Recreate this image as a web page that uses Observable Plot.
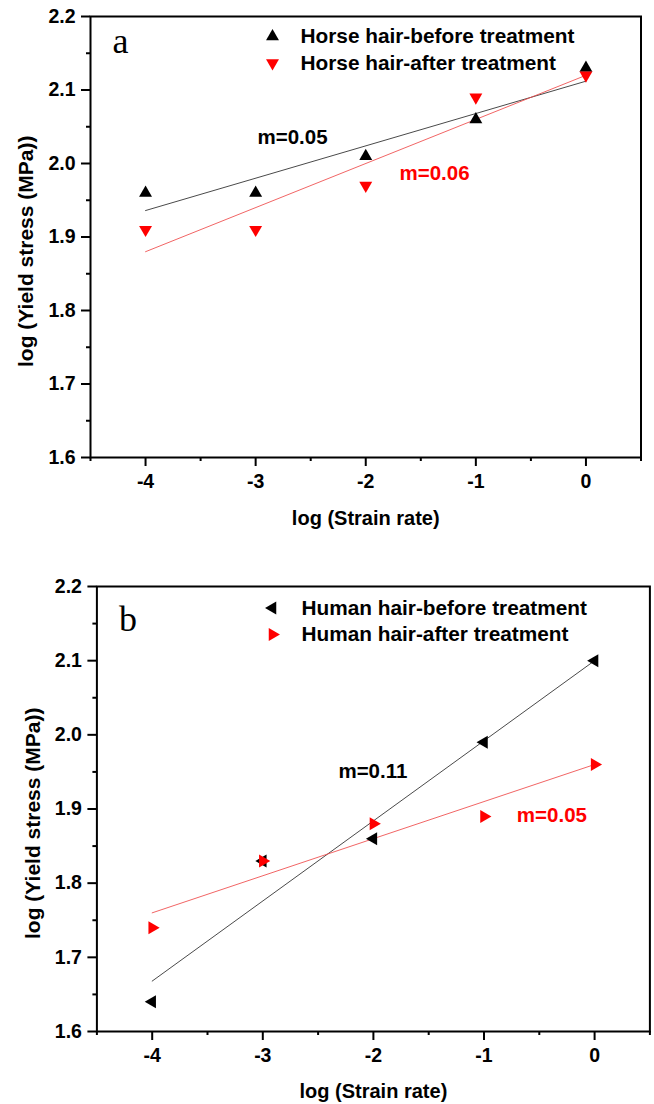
<!DOCTYPE html>
<html>
<head>
<meta charset="utf-8">
<script src="https://cdn.jsdelivr.net/npm/d3@7"></script>
<script src="https://cdn.jsdelivr.net/npm/@observablehq/plot@0.6"></script>
<style>
  body { margin: 0; background: #fff; }
  #chart svg { display: block; }
</style>
</head>
<body>
<div id="chart"></div>
<script>
// Strain-rate sensitivity of hair fibres: log yield stress vs log strain rate
const strainRate = [-4, -3, -2, -1, 0];
const horseBefore = [1.96, 1.96, 2.01, 2.06, 2.13];
const horseAfter = [1.91, 1.91, 1.97, 2.09, 2.12];
const humanBefore = [1.64, 1.83, 1.86, 1.99, 2.10];
const humanAfter = [1.74, 1.83, 1.88, 1.89, 1.96];

const xTicks = [-4, -3, -2, -1, 0];
const xMinorTicks = [-4.5, -3.5, -2.5, -1.5, -0.5, 0.5];
const yTicks = [1.6, 1.7, 1.8, 1.9, 2.0, 2.1, 2.2];
const yMinorTicks = [1.65, 1.75, 1.85, 1.95, 2.05, 2.15];

const panelLetters = ["a", "b"];
const seriesNames = [
  ["Horse hair-before treatment", "Horse hair-after treatment"],
  ["Human hair-before treatment", "Human hair-after treatment"]
];
const slopeLabels = [["m=0.05", "m=0.06"], ["m=0.11", "m=0.05"]];

const xTitle = "log (Strain rate)";
const yTitle = "log (Yield stress (MPa))";

const SANS = "'Liberation Sans', Arial, Helvetica, sans-serif";
const SERIF = "'Liberation Serif', 'Times New Roman', serif";
const RED = "#ff0000";
const WIDTH = 654;

function rows(values) {
  return strainRate.map((x, i) => ({x, y: values[i]}));
}

function panel(cfg) {
  const [s0, s1] = cfg.series;
  const bold = {fontWeight: "bold", lineAnchor: "middle"};
  const marks = [
    Plot.frame({stroke: "black", strokeWidth: 2}),
    // major and minor ticks (outward)
    Plot.axisX(xTicks, {tickSize: 9, tickPadding: 8, strokeWidth: 2, tickFormat: d => String(d), label: null}),
    Plot.axisX(xMinorTicks, {tickSize: 4, strokeWidth: 2, tickFormat: () => "", label: null}),
    Plot.axisY(yTicks, {tickSize: 9, tickPadding: 6, strokeWidth: 2, tickFormat: d => d.toFixed(1), label: null}),
    Plot.axisY(yMinorTicks, {tickSize: 4, strokeWidth: 2, tickFormat: () => "", label: null}),
    // axis titles (the y title runs upward from its start point)
    Plot.text([xTitle], {frameAnchor: "bottom", dy: cfg.xTitleDy, text: d => d, fontSize: 20, textAnchor: "middle", ...bold}),
    Plot.text([yTitle], {frameAnchor: "left", dx: -64, dy: 130, rotate: -90, text: d => d, fontSize: 21, textAnchor: "start", ...bold}),
    // fitted lines
    Plot.linearRegressionY(rows(s0.values), {x: "x", y: "y", ci: 0, stroke: s0.line, strokeWidth: 1}),
    Plot.linearRegressionY(rows(s1.values), {x: "x", y: "y", ci: 0, stroke: s1.line, strokeWidth: 1, strokeOpacity: 0.85}),
    // measurements
    Plot.dot(rows(s0.values), {x: "x", y: "y", symbol: "triangle", rotate: s0.rotate, fill: s0.fill, r: 4.8}),
    Plot.dot(rows(s1.values), {x: "x", y: "y", symbol: "triangle", rotate: s1.rotate, fill: s1.fill, r: 4.8}),
    // panel letter
    Plot.text([cfg.letter], {frameAnchor: "top-left", dx: cfg.letterDx, dy: cfg.letterDy, text: d => d, fontFamily: SERIF, fontSize: 36, fontWeight: "normal", textAnchor: "start", lineAnchor: "middle"}),
    // legend
    Plot.dot([s0], {frameAnchor: "top-left", dx: cfg.legend.symbolDx, dy: cfg.legend.row0, symbol: "triangle", rotate: s0.rotate, fill: s0.fill, r: 4.8}),
    Plot.dot([s1], {frameAnchor: "top-left", dx: cfg.legend.symbolDx, dy: cfg.legend.row1, symbol: "triangle", rotate: s1.rotate, fill: s1.fill, r: 4.8}),
    Plot.text([s0.name], {frameAnchor: "top-left", dx: cfg.legend.textDx, dy: cfg.legend.row0, text: d => d, fontSize: 20.8, textAnchor: "start", ...bold}),
    Plot.text([s1.name], {frameAnchor: "top-left", dx: cfg.legend.textDx, dy: cfg.legend.row1, text: d => d, fontSize: 20.8, textAnchor: "start", ...bold}),
    // slope annotations
    Plot.text([cfg.slopes[0]], {frameAnchor: "top-left", dx: cfg.slopes[0].dx, dy: cfg.slopes[0].dy, text: d => d.label, fill: "black", fontSize: 20.5, textAnchor: "middle", ...bold}),
    Plot.text([cfg.slopes[1]], {frameAnchor: "top-left", dx: cfg.slopes[1].dx, dy: cfg.slopes[1].dy, text: d => d.label, fill: RED, fontSize: 20.5, textAnchor: "middle", ...bold})
  ];
  return Plot.plot({
    width: WIDTH,
    height: cfg.height,
    marginTop: cfg.marginTop,
    marginBottom: cfg.marginBottom,
    marginLeft: cfg.marginLeft,
    marginRight: cfg.marginRight,
    x: {domain: [-4.5, 0.5]},
    y: {domain: [1.6, 2.2]},
    style: {fontFamily: SANS, fontSize: "19.5px", fontWeight: "bold", color: "black", background: "white", overflow: "visible"},
    marks
  });
}

const chart = document.getElementById("chart");

chart.append(panel({
  height: 560, marginTop: 16, marginBottom: 103, marginLeft: 90, marginRight: 13.5,
  xTitleDy: 61,
  letter: panelLetters[0], letterDx: 22, letterDy: 25,
  series: [
    {name: seriesNames[0][0], values: horseBefore, fill: "black", rotate: 0, line: "#4a4a4a"},
    {name: seriesNames[0][1], values: horseAfter, fill: RED, rotate: 180, line: "#ee4a4a"}
  ],
  legend: {symbolDx: 182, textDx: 210, row0: 20, row1: 46.5},
  slopes: [
    {label: slopeLabels[0][0], dx: 202, dy: 121},
    {label: slopeLabels[0][1], dx: 344, dy: 157}
  ]
}));

chart.append(panel({
  height: 544, marginTop: 26, marginBottom: 73, marginLeft: 96.4, marginRight: 4.6,
  xTitleDy: 60,
  letter: panelLetters[1], letterDx: 22, letterDy: 33,
  series: [
    {name: seriesNames[1][0], values: humanBefore, fill: "black", rotate: -90, line: "#4a4a4a"},
    {name: seriesNames[1][1], values: humanAfter, fill: RED, rotate: 90, line: "#ee4a4a"}
  ],
  legend: {symbolDx: 175.6, textDx: 204.6, row0: 21.5, row1: 48},
  slopes: [
    {label: slopeLabels[1][0], dx: 276, dy: 185},
    {label: slopeLabels[1][1], dx: 455, dy: 229}
  ]
}));
</script>
</body>
</html>
